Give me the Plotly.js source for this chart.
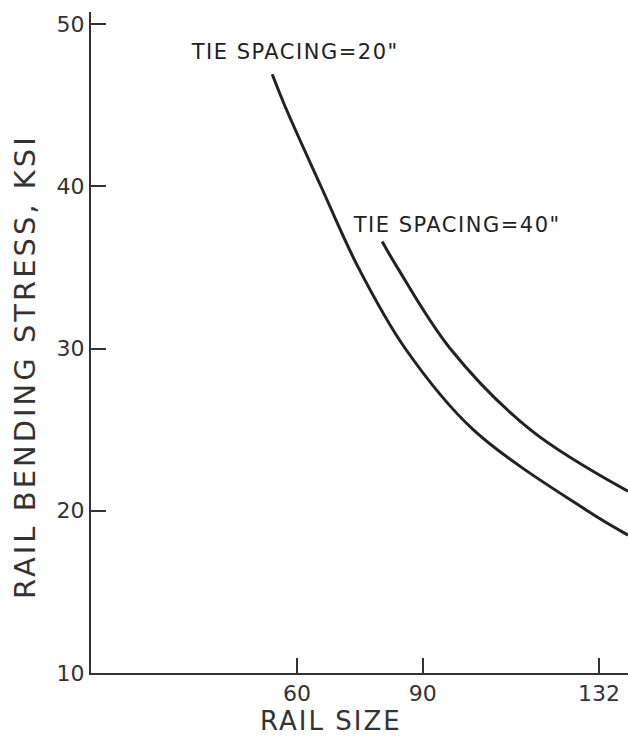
<!DOCTYPE html>
<html>
<head>
<meta charset="utf-8">
<script src="https://cdn.plot.ly/plotly-3.0.1.min.js"></script>
<style>
html,body{margin:0;padding:0;background:#fff}
#chart{width:628px;height:738px}
.annotation[data-index="0"] text, .annotation[data-index="1"] text{letter-spacing:1.5px}
.annotation[data-index="2"] text{letter-spacing:2px}
.annotation[data-index="3"] text{letter-spacing:3px}
</style>
</head>
<body>
<div id="chart"></div>
<script>
// Rail size (x) and rail bending stress in ksi (y)
const railSize20 = [54.1, 57.2, 65.7, 74.6, 85.8, 102.0, 129.2, 138.9];
const stress20   = [46.9, 44.9, 40.0, 35.0, 30.0, 25.0, 20.0, 18.5];
const railSize40 = [80.3, 83.9, 96.5, 115.6, 138.9];
const stress40   = [36.6, 35.0, 30.0, 25.0, 21.2];
const xTicks = [60, 90, 132];
const yTicks = [10, 20, 30, 40, 50];
const label20 = 'TIE SPACING=20"';
const label40 = 'TIE SPACING=40"';
const xTitle = 'RAIL SIZE';
const yTitle = 'RAIL BENDING STRESS, KSI';

const ink = '#222222';
const font = 'DejaVu Sans, Liberation Sans, sans-serif';

const traces = [
  {x: railSize20, y: stress20, mode: 'lines', line: {color: ink, width: 3, shape: 'spline', smoothing: 1}, hoverinfo: 'skip', showlegend: false},
  {x: railSize40, y: stress40, mode: 'lines', line: {color: ink, width: 3, shape: 'spline', smoothing: 1}, hoverinfo: 'skip', showlegend: false}
];

const layout = {
  width: 628, height: 738,
  margin: {l: 91, r: 0, t: 12, b: 65},
  paper_bgcolor: '#ffffff', plot_bgcolor: '#ffffff',
  showlegend: false,
  font: {family: font, color: '#333333'},
  xaxis: {
    range: [10.9, 138.9], tickvals: xTicks, ticktext: xTicks.map(String),
    ticks: 'inside', ticklen: 15, tickwidth: 2, tickcolor: '#333',
    showline: true, linecolor: '#333', linewidth: 2,
    showgrid: false, zeroline: false,
    tickfont: {size: 22, family: font, color: '#333'},
    fixedrange: true
  },
  yaxis: {
    range: [10, 50.74], tickvals: yTicks, ticktext: yTicks.map(String),
    ticks: 'inside', ticklen: 15, tickwidth: 2, tickcolor: '#333',
    showline: true, linecolor: '#333', linewidth: 2,
    showgrid: false, zeroline: false,
    tickfont: {size: 22, family: font, color: '#333'},
    fixedrange: true
  },
  annotations: [
    {x: 36.9, y: 48.3, xref: 'x', yref: 'y', text: label20, showarrow: false, xanchor: 'left', yanchor: 'middle', font: {size: 21, family: font, color: '#222'}},
    {x: 75.5, y: 37.6, xref: 'x', yref: 'y', text: label40, showarrow: false, xanchor: 'left', yanchor: 'middle', font: {size: 21, family: font, color: '#222'}},
    {x: 331 / 628, y: 1 - 721 / 738, xref: 'paper', yref: 'paper', text: xTitle, showarrow: false, xanchor: 'center', yanchor: 'middle', font: {size: 26, family: font, color: '#333'}},
    {x: 25 / 628, y: 1 - 367 / 738, xref: 'paper', yref: 'paper', text: yTitle, textangle: -90, showarrow: false, xanchor: 'center', yanchor: 'middle', font: {size: 29, family: font, color: '#333'}}
  ]
};

// convert page-pixel fractions into plot-area paper fractions
const pw = 628 - 91, ph = 738 - 12 - 65;
layout.annotations.slice(2).forEach(a => {
  const px = a.x * 628, py = (1 - a.y) * 738;
  a.x = (px - 91) / pw;
  a.y = 1 - (py - 12) / ph;
});

Plotly.newPlot('chart', traces, layout, {displayModeBar: false, staticPlot: true});
</script>
</body>
</html>
